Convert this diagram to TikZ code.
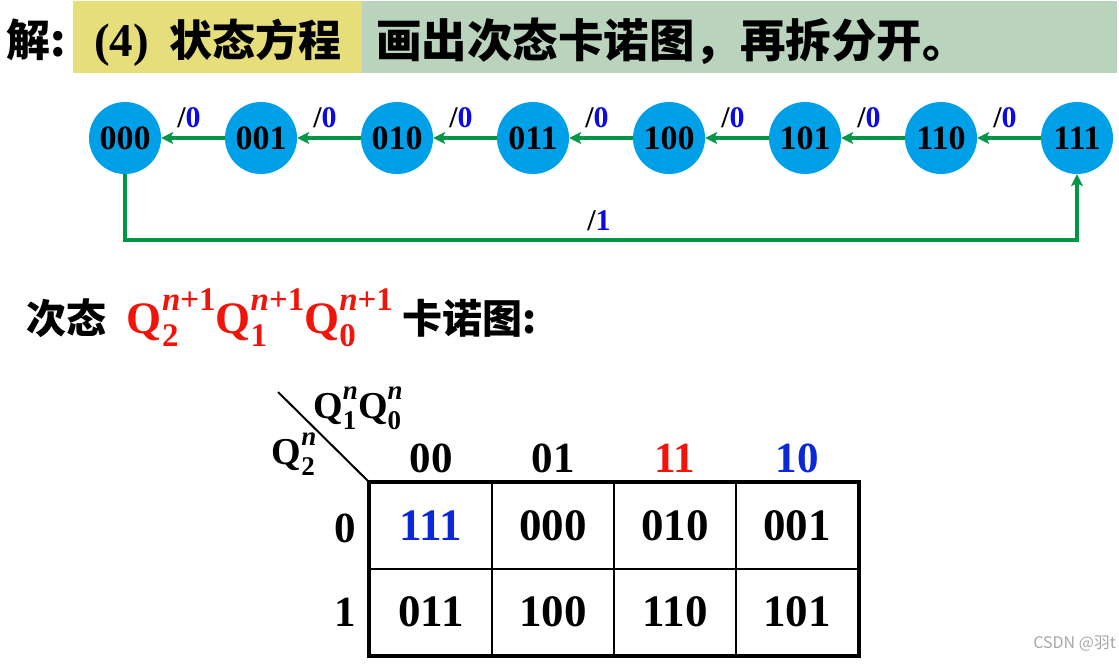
\documentclass[tikz,border=0pt]{standalone}
\usepackage{fontspec}
\setmainfont{Liberation Serif}
\newfontfamily\cjk{Noto Sans CJK SC}
\usetikzlibrary{arrows.meta}
\definecolor{hdryellow}{RGB}{229,222,122}
\definecolor{hdrgreen}{RGB}{185,211,189}
\definecolor{stateblue}{RGB}{0,160,233}
\definecolor{arrgreen}{RGB}{0,150,70}
\definecolor{lblblue}{RGB}{10,10,225}
\definecolor{kred}{RGB}{240,20,10}
\definecolor{kblue}{RGB}{10,40,215}
\newcommand\fs[1]{\fontsize{#1}{#1}\selectfont}
% Q with sub/superscript: size of scripts, sub, sup
\newcommand\QQ[3]{Q\rlap{\raisebox{-0.3em}{\fs{#1}#2}}\raisebox{0.5em}{\fs{#1}#3}}
\tikzset{
  txt/.style={inner sep=0pt, outer sep=0pt},
  state/.style={circle, fill=stateblue, minimum size=72pt, inner sep=0pt, font=\fs{34}\bfseries},
  arr/.style={draw=arrgreen, line width=3.2pt, -{Stealth[length=12pt,width=12pt,inset=3pt]}},
  lbl/.style={txt, font=\fs{30}\bfseries},
  cell/.style={draw, line width=2pt, minimum width=122pt, minimum height=86pt, inner sep=0pt, font=\fs{45}\bfseries},
}
\begin{document}
\begin{tikzpicture}[x=1pt,y=-1pt]
\useasboundingbox (0,0) rectangle (1119,664);
% header
\fill[hdryellow] (73,1) rectangle (362,73);
\fill[hdrgreen] (362,1) rectangle (1117,73);
\node[txt, anchor=base west, font=\cjk\bfseries\fs{44}] (jie) at (6,56) {解:};
\node[txt, anchor=base west, font=\bfseries\fs{47}] (h1) at (94,56) {(4)};
\node[txt, anchor=base west, font=\cjk\bfseries\fs{43}] (h1b) at (169,56) {状态方程};
\node[txt, anchor=base west, font=\cjk\bfseries\fs{45.5}] (h2) at (376,57) {画出次态卡诺图，再拆分开。};
% state diagram
\foreach \n/\x in {000/125,001/261,010/397,011/533,100/669,101/805,110/941,111/1077}
  \node[state] (s\n) at (\x,138) {\n};
\foreach \a/\b/\x in {001/000/189,010/001/325,011/010/461,100/011/597,101/100/733,110/101/869,111/110/1005}{
  \draw[arr] (s\a) -- (s\b);
  \node[lbl] (l\a) at (\x,118) {/\textcolor{lblblue}{0}};
}
\coordinate (fb) at (0,240);
\draw[arr] (s000.south) -- (s000.south |- fb) -| (s111.south);
\node[lbl] (l000) at (599,221) {/\textcolor{lblblue}{1}};
% title line 2
\node[txt, anchor=base west] (t2) at (27,333) {{\cjk\bfseries\fs{40}次态}\hspace{20pt}{\bfseries\fs{45}\color{kred}\QQ{33}{2}{\textit{n}+1}\QQ{33}{1}{\textit{n}+1}\QQ{33}{0}{\textit{n}+1}}\hspace{10pt}{\cjk\bfseries\fs{40}卡诺图:}};
% Karnaugh map
\node[cell] (c00) at (431,526) {\textcolor{kblue}{111}};
\node[cell] (c01) at (553,526) {000};
\node[cell] (c02) at (675,526) {010};
\node[cell] (c03) at (797,526) {001};
\node[cell] (c10) at (431,612) {011};
\node[cell] (c11) at (553,612) {100};
\node[cell] (c12) at (675,612) {110};
\node[cell] (c13) at (797,612) {101};
\draw[line width=4pt] (c00.north west) rectangle (c13.south east);
\coordinate (d1) at (278,392);
\draw[line width=2pt] (d1) -- (c00.north west);
\node[txt, font=\bfseries\fs{38}] (qh) at (358,408) {\QQ{27}{1}{\textit{n}}\QQ{27}{0}{\textit{n}}};
\node[txt, font=\bfseries\fs{38}] (qv) at (294,454) {\QQ{27}{2}{\textit{n}}};
\node[txt, font=\bfseries\fs{43}] (h00) at (431,458) {00};
\node[txt, font=\bfseries\fs{43}] (h01) at (553,458) {01};
\node[txt, font=\bfseries\fs{43}, text=kred] (h11) at (675,458) {11};
\node[txt, font=\bfseries\fs{43}, text=kblue] (h10) at (797,458) {10};
\node[txt, font=\bfseries\fs{43}] (r0) at (345,528) {0};
\node[txt, font=\bfseries\fs{43}] (r1) at (345,612) {1};
% watermark
\node[txt, anchor=base east, font=\cjk\fs{16}, text=black!35] (wm) at (1116,648) {CSDN @羽t};
\end{tikzpicture}
\end{document}
